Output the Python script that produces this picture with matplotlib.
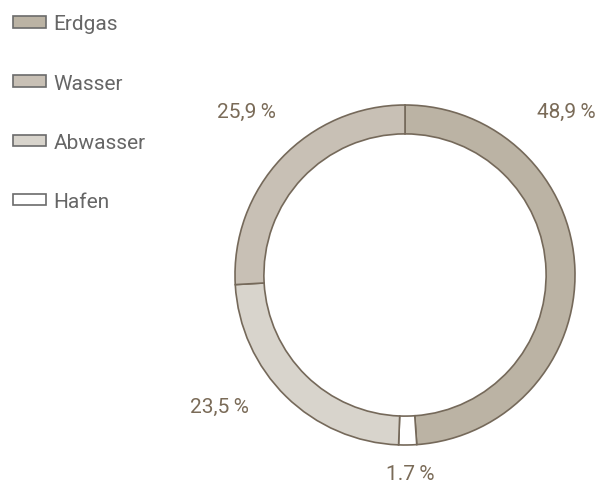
import matplotlib
matplotlib.use("Agg")
import matplotlib.pyplot as plt
from matplotlib.patches import Patch

categories = ["Erdgas", "Wasser", "Abwasser", "Hafen"]
# clockwise from 12 o'clock
ring_order = ["Erdgas", "Hafen", "Abwasser", "Wasser"]
shares = {"Erdgas": 48.9, "Hafen": 1.7, "Abwasser": 23.5, "Wasser": 25.9}
share_labels = {"Erdgas": "48,9\u2009%", "Wasser": "25,9\u2009%",
                "Abwasser": "23,5\u2009%", "Hafen": "1.7\u2009%"}

colors = {"Erdgas": "#bbb3a4", "Wasser": "#c8c0b5", "Abwasser": "#d8d4cc", "Hafen": "#ffffff"}
label_pos = {"Erdgas": (0.95, 0.965), "Wasser": (-0.93, 0.965),
             "Abwasser": (-1.09, -0.77), "Hafen": (0.03, -1.17)}
EDGE = "#75695a"
TXT = "#7a6b58"

plt.rcParams["font.family"] = ["Roboto", "DejaVu Sans"]

W, H = 601, 485
fig = plt.figure(figsize=(W / 100, H / 100), dpi=100)
cx, cy, r = 405, 276, 170
ax = fig.add_axes([(cx - r) / W, (H - cy - r) / H, 2 * r / W, 2 * r / H])

ax.pie([shares[c] for c in ring_order], colors=[colors[c] for c in ring_order],
       startangle=90, counterclock=False, radius=1.0,
       wedgeprops=dict(width=0.17, edgecolor=EDGE, linewidth=1.2))
ax.set_xlim(-1, 1)
ax.set_ylim(-1, 1)
ax.set_aspect("equal")
ax.axis("off")

for c in categories:
    x, y = label_pos[c]
    ax.text(x, y, share_labels[c], ha="center", va="center", fontsize=15,
            color=TXT)

handles = [Patch(facecolor=colors[c], edgecolor="#6b6b6b", linewidth=1.2) for c in categories]
leg = fig.legend(handles, categories, loc="upper left", bbox_to_anchor=(0.0, 0.994),
                 frameon=False, fontsize=15, handlelength=1.6, handleheight=0.48,
                 handletextpad=0.38, labelspacing=1.93, borderaxespad=0.2)
for t in leg.get_texts():
    t.set_color("#666666")

fig.savefig("out.png", dpi=100)
